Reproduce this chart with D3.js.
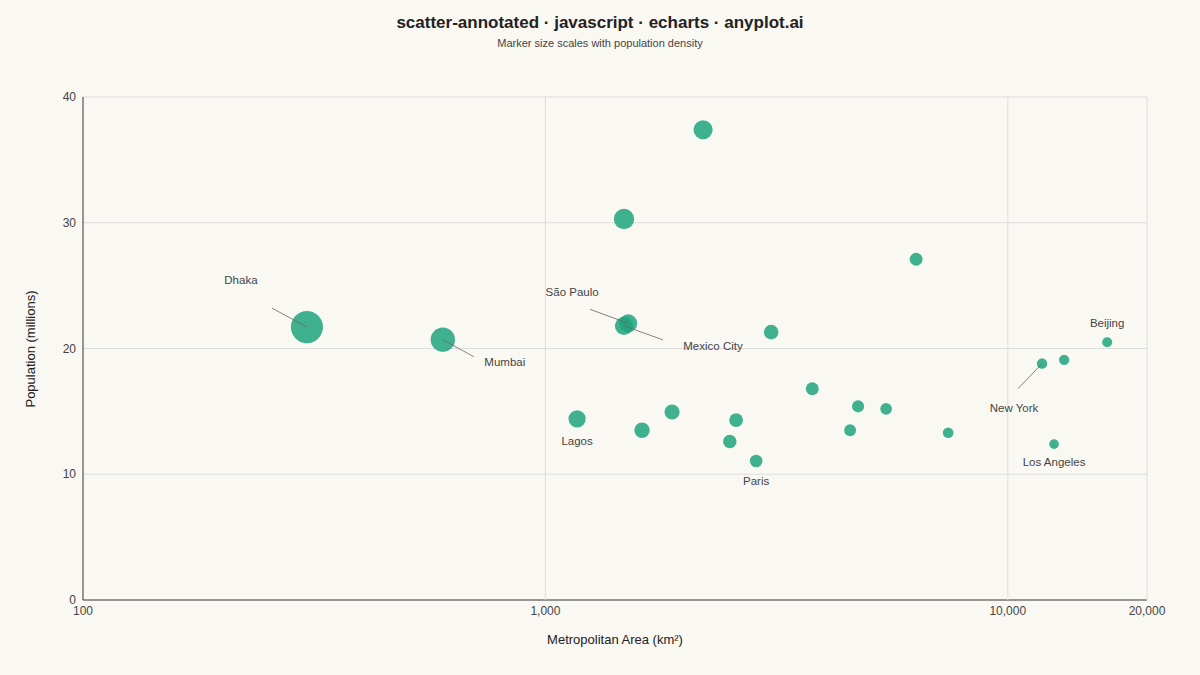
<!DOCTYPE html><html><head><meta charset="utf-8"><script src="https://cdn.jsdelivr.net/npm/d3@7"></script>
<style>body{margin:0;background:#faf8f2;font-family:"Liberation Sans",Arial,sans-serif}</style></head><body><svg id="c" width="1200" height="675"></svg><script>
const cities=["Dhaka","Mumbai","Lagos","São Paulo","Mexico City","Tokyo","Delhi","C8","C9","C10","C11","Paris","C13","C14","C15","C16","C17","C18","C19","New York","C21","Los Angeles","Beijing"];
const area=[305,600,1171,1510,1479,2193,1479,1618,1879,2585,2505,2856,3078,3777,4745,4560,5455,6335,7430,11860,13240,12590,16400];
const population=[21.7,20.7,14.4,22.0,21.8,37.4,30.3,13.5,14.95,14.3,12.6,11.05,21.3,16.8,15.4,13.5,15.2,27.1,13.3,18.8,19.1,12.4,20.5];
const xTicks=[100,1000,10000,20000];
const yTicks=[0,10,20,30,40];
// label offsets: [labelDx,labelDy,lineStartDx,lineStartDy] relative to point
const labels={"Dhaka":[-66,-47,-35,-19],"Mumbai":[62,22,31,17],"São Paulo":[-56,-31,-38,-14],"Mexico City":[89,20,39,14],"Lagos":[0,22,null],"Paris":[0,20,null],"New York":[-28,44,-24,25],"Los Angeles":[0,18,null],"Beijing":[0,-19,null]};
const svg=d3.select("#c");
const x=d3.scaleLog().domain([100,20000]).range([83,1147]);
const y=d3.scaleLinear().domain([0,40]).range([600,97]);
const dens=area.map((a,i)=>Math.sqrt(population[i]*1e6/a));
const r=d3.scaleLinear().domain([35,266]).range([5,16]);
svg.append("text").attr("x",600).attr("y",28).attr("text-anchor","middle").attr("font-size",17).attr("font-weight","bold").attr("fill","#222").text("scatter-annotated · javascript · echarts · anyplot.ai");
svg.append("text").attr("x",600).attr("y",47).attr("text-anchor","middle").attr("font-size",11).attr("fill","#444").text("Marker size scales with population density");
const g=svg.append("g");
yTicks.forEach(t=>{g.append("line").attr("x1",83).attr("x2",1147).attr("y1",y(t)).attr("y2",y(t)).attr("stroke",t?"#ddd":"#333");
 g.append("text").attr("x",76).attr("y",y(t)+4).attr("text-anchor","end").attr("font-size",12).attr("fill","#444").text(t);});
xTicks.forEach(t=>{g.append("line").attr("x1",x(t)).attr("x2",x(t)).attr("y1",97).attr("y2",600).attr("stroke",t===100?"#333":"#ddd");
 g.append("text").attr("x",x(t)).attr("y",615).attr("text-anchor","middle").attr("font-size",12).attr("fill","#444").text(d3.format(",")(t));});
svg.append("text").attr("x",615).attr("y",644).attr("text-anchor","middle").attr("font-size",13).attr("fill","#222").text("Metropolitan Area (km²)");
svg.append("text").attr("transform","translate(35,349) rotate(-90)").attr("text-anchor","middle").attr("font-size",13).attr("fill","#222").text("Population (millions)");
cities.forEach((c,i)=>{svg.append("circle").attr("cx",x(area[i])).attr("cy",y(population[i])).attr("r",r(dens[i])).attr("fill","#1fa57d").attr("fill-opacity",0.85);});
cities.forEach((c,i)=>{const l=labels[c];if(!l)return;const px=x(area[i]),py=y(population[i]);
 if(l[2]!==null) svg.append("line").attr("x1",px+l[2]).attr("y1",py+l[3]).attr("x2",px).attr("y2",py).attr("stroke","#666").attr("stroke-width",0.8);
 svg.append("text").attr("x",px+l[0]).attr("y",py+l[1]+4).attr("text-anchor","middle").attr("font-size",11.5).attr("fill","#444").text(c);});
</script></body></html>
